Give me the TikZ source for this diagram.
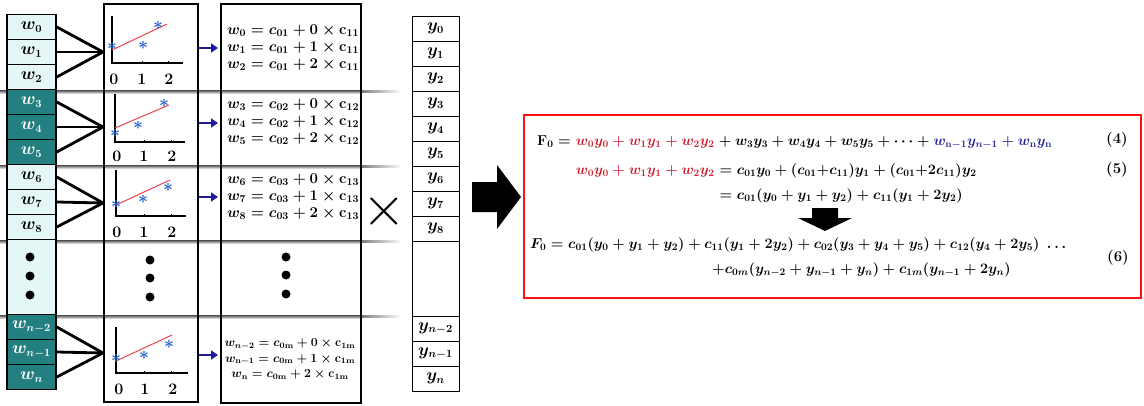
\documentclass[tikz,border=0pt]{standalone}
\usepackage{amsmath}
\usepackage{graphicx}
\usetikzlibrary{arrows.meta}
\definecolor{lightc}{HTML}{E4F6F6}
\definecolor{darkc}{HTML}{237F80}
\definecolor{eqred}{HTML}{CC1F2E}
\definecolor{eqblue}{HTML}{25259A}
\definecolor{starblue}{HTML}{1F5FD0}
\definecolor{fitred}{HTML}{EE4052}
\definecolor{arrowblue}{HTML}{1A1A9A}
\definecolor{boxred}{HTML}{FF1010}
\newcommand{\eqlines}[4]{\scalebox{#1}{\def\arraystretch{#4}\begin{tabular}{@{}#2@{}}#3\end{tabular}}}
\begin{document}
\begin{tikzpicture}[x=1pt,y=-1pt,
  wcell/.style={draw=black, line width=1.6pt, fill=lightc, minimum width=49pt, minimum height=25pt, inner sep=0pt, font=\fontsize{16}{16}\selectfont\boldmath},
  wdark/.style={wcell, fill=darkc, text=white},
  ycell/.style={draw=black, line width=0.9pt, minimum width=47pt, minimum height=25pt, inner sep=0pt, font=\fontsize{16}{16}\selectfont\boldmath},
  fan/.style={line width=2.8pt, line cap=round},
  axisl/.style={line width=2.2pt},
  fitl/.style={draw=fitred, line width=1pt},
  star/.style={text=starblue, inner sep=0pt, font=\fontsize{17}{17}\selectfont\boldmath},
  ticklab/.style={font=\fontsize{16}{16}\selectfont\bfseries, inner sep=0pt},
  barrow/.style={-{Triangle[length=7pt,width=9pt]}, line width=2.2pt, draw=arrowblue},
  dotm/.style={circle, fill=black, inner sep=0pt, minimum size=9pt},
  eqtxt/.style={font=\fontsize{14}{17}\selectfont\boldmath, inner sep=0pt},
  eqbig/.style={font=\fontsize{14.5}{17}\selectfont\boldmath, inner sep=0pt},
  eqlab/.style={font=\fontsize{15}{15}\selectfont\bfseries, inner sep=0pt}
]
\useasboundingbox (0,0) rectangle (1144,405);
% shadow separators
\foreach \yy in {90,165,240,315} {
  \shade[top color=black!70, bottom color=white] (0,\yy) rectangle (362,\yy+4);
  \shade[left color=black!50, right color=white] (362,\yy) rectangle (402,\yy+2.5);
}
% w column
\node[wcell] (w0) at (31.5,27) {$w_0$};
\node[wcell] (w1) at (31.5,52) {$w_1$};
\node[wcell] (w2) at (31.5,77) {$w_2$};
\node[wdark] (w3) at (31.5,102) {$w_3$};
\node[wdark] (w4) at (31.5,127) {$w_4$};
\node[wdark] (w5) at (31.5,152) {$w_5$};
\node[wcell] (w6) at (31.5,177) {$w_6$};
\node[wcell] (w7) at (31.5,202) {$w_7$};
\node[wcell] (w8) at (31.5,227) {$w_8$};
\node[wcell, minimum height=75pt] (wd) at (31.5,277) {};
\node[dotm] (wd1) at (30,257) {};
\node[dotm] (wd2) at (30,276) {};
\node[dotm] (wd3) at (30,295) {};
\node[wdark] (wa) at (31.5,327) {$w_{n-2}$};
\node[wdark] (wb) at (31.5,352) {$w_{n-1}$};
\node[wdark] (wc) at (31.5,377) {$w_n$};
% fan lines
\coordinate (f1) at (103,52);
\coordinate (f2) at (103,127);
\coordinate (f3) at (103,203);
\coordinate (f4) at (103,353);
\foreach \a/\f in {w0/f1,w1/f1,w2/f1,w3/f2,w4/f2,w5/f2,w6/f3,w7/f3,w8/f3,wa/f4,wb/f4,wc/f4}
  \draw[fan] (\a.east) -- (\f);
% plot box
\node[draw, line width=1.2pt, minimum width=94pt, minimum height=398pt, inner sep=0pt] (pbox) at (151,203) {};
% plot 1
\begin{scope}[shift={(112,63)}]
  \draw[axisl] (0,-47) -- (0,0) -- (71,0);
  \draw[line width=1pt] (30,0) -- (30,-2.5) (56,0) -- (56,-2.5);
  \draw[fitl] (0,-13) -- (55,-39);
  \node[star] at (0,-17) {$\ast$};
  \node[star] at (31,-18) {$\ast$};
  \node[star] at (46,-38) {$\ast$};
  \node[ticklab] at (2,16) {0};
  \node[ticklab] at (30,16) {1};
  \node[ticklab] at (57,16) {2};
\end{scope}
% plot 2
\begin{scope}[shift={(115,142)}]
  \draw[axisl] (0,-48) -- (0,0) -- (70,0);
  \draw[line width=1pt] (29,0) -- (29,-2.5) (56,0) -- (56,-2.5);
  \draw[fitl] (0,-14) -- (54,-37);
  \node[star] at (0,-9) {$\ast$};
  \node[star] at (23,-17) {$\ast$};
  \node[star] at (49,-39) {$\ast$};
  \node[ticklab] at (2,14) {0};
  \node[ticklab] at (29,14) {1};
  \node[ticklab] at (57,14) {2};
\end{scope}
% plot 3
\begin{scope}[shift={(116,216)}]
  \draw[axisl] (0,-46) -- (0,0) -- (70,0);
  \draw[line width=1pt] (28,0) -- (28,-2.5) (55,0) -- (55,-2.5);
  \draw[fitl] (0,-11) -- (54,-36);
  \node[star] at (0,-12) {$\ast$};
  \node[star] at (27,-17) {$\ast$};
  \node[star] at (52,-29) {$\ast$};
  \node[ticklab] at (1,16) {0};
  \node[ticklab] at (28,16) {1};
  \node[ticklab] at (56,16) {2};
\end{scope}
% dots
\node[dotm] (pd1) at (150,260) {};
\node[dotm] (pd2) at (150,278) {};
\node[dotm] (pd3) at (150,297) {};
% plot 4
\begin{scope}[shift={(116,373)}]
  \draw[axisl] (0,-46) -- (0,0) -- (72,0);
  \draw[line width=1pt] (28,0) -- (28,-2.5) (55,0) -- (55,-2.5);
  \draw[fitl] (0,-12) -- (56,-38);
  \node[star] at (0,-15) {$\ast$};
  \node[star] at (28,-18) {$\ast$};
  \node[star] at (53,-29) {$\ast$};
  \node[ticklab] at (3,16) {0};
  \node[ticklab] at (29,16) {1};
  \node[ticklab] at (57,16) {2};
\end{scope}
% equation box
\node[draw, line width=1.2pt, minimum width=140pt, minimum height=399pt, inner sep=0pt] (ebox) at (291,203.5) {};
\node[eqtxt, anchor=west] (e1) at (227,48) {\eqlines{1.04}{l}{$w_0 = c_{01} + 0 \times \mathrm{c}_{11}$\\ $w_1 = c_{01} + 1 \times \mathrm{c}_{11}$\\ $w_2 = c_{01} + 2 \times \mathrm{c}_{11}$}{0.96}};
\node[eqtxt, anchor=west] (e2) at (227,122) {\eqlines{1.04}{l}{$w_3 = c_{02} + 0 \times \mathrm{c}_{12}$\\ $w_4 = c_{02} + 1 \times \mathrm{c}_{12}$\\ $w_5 = c_{02} + 2 \times \mathrm{c}_{12}$}{0.96}};
\node[eqtxt, anchor=west] (e3) at (227,197) {\eqlines{1.04}{l}{$w_6 = c_{03} + 0 \times \mathrm{c}_{13}$\\ $w_7 = c_{03} + 1 \times \mathrm{c}_{13}$\\ $w_8 = c_{03} + 2 \times \mathrm{c}_{13}$}{0.96}};
\node[dotm] (ed1) at (286,257) {};
\node[dotm] (ed2) at (286,275) {};
\node[dotm] (ed3) at (286,294) {};
\node[eqtxt, font=\fontsize{12}{15}\selectfont\boldmath] (e4) at (290,359) {\eqlines{1.03}{c}{$w_{n-2} = c_{0\mathrm{m}} + 0 \times \mathrm{c}_{1\mathrm{m}}$\\ $w_{\mathrm{n}-1} = c_{0\mathrm{m}} + 1 \times \mathrm{c}_{1\mathrm{m}}$\\ $w_{\mathrm{n}} = c_{0\mathrm{m}} + 2 \times \mathrm{c}_{1\mathrm{m}}$}{1}};
% blue arrows
\foreach \yy/\nm in {48/a1,123/a2,197/a3,355/a4} {
  \coordinate (\nm s) at (pbox.east |- 0,\yy);
  \coordinate (\nm e) at (218,\yy);
  \draw[barrow] (\nm s) -- (\nm e);
}
% times
\node[inner sep=0pt] (times) at (384,211) {\scalebox{5.6}{$\times$}};
% y column
\foreach \i in {0,...,8} {
  \node[ycell] (y\i) at (435.5,28.5+25*\i) {$y_{\i}$};
}
\node[ycell, minimum height=75pt] (yd) at (435.5,278.5) {};
\node[ycell] (ya) at (435.5,328.5) {$y_{n-2}$};
\node[ycell] (yb) at (435.5,353.5) {$y_{n-1}$};
\node[ycell] (yc) at (435.5,378.5) {$y_n$};
% big arrow
\fill[black] (472,182) -- (497,182) -- (497,165) -- (521,197) -- (497,229) -- (497,212) -- (472,212) -- cycle;
% red box
\node[draw=boxred, line width=2pt, minimum width=617pt, minimum height=183pt, inner sep=0pt] (rbox) at (832.5,206.5) {};
% line 1
\node[eqbig, anchor=base west] (l1a) at (537,145) {$\mathbf{F}_0 = {}$};
\node[eqbig, anchor=base west, text=eqred] (l1b) at (l1a.base east) {$w_0y_0 + w_1y_1 + w_2y_2$};
\node[eqbig, anchor=base west] (l1c) at (l1b.base east) {${} + w_3y_3 + w_4y_4 + w_5y_5 + \cdots + {}$};
\node[eqbig, anchor=base west, text=eqblue] (l1d) at (l1c.base east) {$w_{\mathrm{n}-1}y_{n-1} + w_{\mathrm{n}}y_{\mathrm{n}}$};
% line 2
\node[eqbig, anchor=base west, text=eqred, yshift=-29pt] (l2a) at (l1b.base west) {$w_0y_0 + w_1y_1 + w_2y_2$};
\node[eqbig, anchor=base west] (l2b) at (l2a.base east) {${}= c_{01}y_0 + (c_{01}{+}c_{11})y_1 + (c_{01}{+}2c_{11})y_2$};
% line 3
\node[eqbig, anchor=base west, yshift=-25pt] (l3) at (l2b.base west) {${}= c_{01}(y_0 + y_1 + y_2) + c_{11}(y_1 + 2y_2)$};
% down arrow
\fill[black] (812,208) -- (838,208) -- (838,218) -- (852,218) -- (825,231) -- (798,218) -- (812,218) -- cycle;
% line 4, 5
\node[eqbig, anchor=base west] (l4) at (530,248) {$F_0 = c_{01}(y_0 + y_1 + y_2) + c_{11}(y_1 + 2y_2) + c_{02}(y_3 + y_4 + y_5) + c_{12}(y_4 + 2y_5)\ \ldots$};
\node[eqbig, anchor=base west] (l5) at (712,273) {$+c_{0m}(y_{n-2} + y_{n-1} + y_n) + c_{1m}(y_{n-1} + 2y_n)$};
% labels
\node[eqlab] (n4) at (1117,140) {(4)};
\node[eqlab] (n5) at (1117,170) {(5)};
\node[eqlab] (n6) at (1118,258) {(6)};
\end{tikzpicture}
\end{document}
